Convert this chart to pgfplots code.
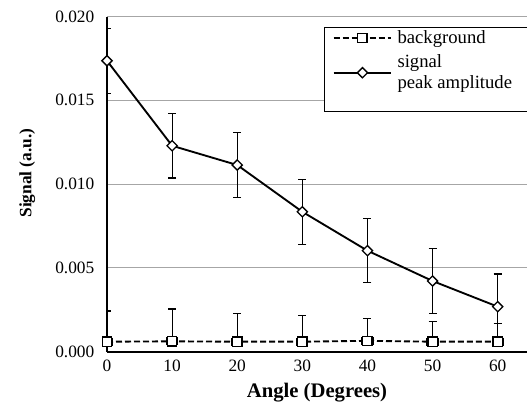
\documentclass[border=0pt]{standalone}
\usepackage{fontspec}
\setmainfont{Liberation Serif}
\usepackage{pgfplots}
\pgfplotsset{compat=1.18}
\usepackage{pgfplotstable}

\pgfplotstableread{
x y e
0 0.01736 0.00194
10 0.01229 0.00192
20 0.01114 0.00194
30 0.00835 0.00194
40 0.00603 0.00192
50 0.00422 0.00193
60 0.00269 0.00195
}\signaldata

\pgfplotstableread{
x y e
0 0.00060 0.00183
10 0.00062 0.00193
20 0.00060 0.00167
30 0.00060 0.00155
40 0.00065 0.00134
50 0.00060 0.00119
60 0.00060 0.00109
}\bgdata

\begin{document}
\begin{tikzpicture}
\begin{axis}[
  name=ax,
  scale only axis,
  width=315pt, height=251.4pt,
  xmin=0, xmax=64.5,
  ymin=0, ymax=0.020,
  axis x line*=bottom,
  axis y line*=left,
  axis line style={line width=1.4pt},
  xtick={0,10,20,30,40,50,60},
  ytick={0,0.005,0.010,0.015,0.020},
  major tick length=0pt,
  scaled y ticks=false,
  yticklabel style={/pgf/number format/fixed,/pgf/number format/fixed zerofill,/pgf/number format/precision=3, xshift=-6pt},
  xticklabel style={yshift=-3pt},
  /pgf/number format/assume math mode=true,
  ticklabel style={font=\fontsize{13}{15}\selectfont},
  ymajorgrids,
  grid style={gray!70, line width=0.75pt},
  xlabel={Angle (Degrees)},
  ylabel={Signal (a.u.)},
  xlabel style={font=\fontsize{15.5}{18}\selectfont\bfseries, at={(axis description cs:0.5,0)}, anchor=base, yshift=-34.5pt},
  ylabel style={font=\fontsize{13}{15}\selectfont\bfseries, at={(axis description cs:-0.19,0.533)}, anchor=center},
  legend style={at={(0.517,0.968)}, anchor=north west, draw=black, line width=0.8pt, fill=white,
    font=\fontsize{14}{15}\selectfont, inner xsep=6pt, inner ysep=0pt, row sep=3pt,
    cells={anchor=west}},
  legend image code/.code={\draw[mark repeat=2,mark phase=2] plot coordinates {(0cm,0cm) (0.76cm,0cm) (1.52cm,0cm)};},
  legend cell align=left,
]
\addplot[black, line width=1.4pt, dash pattern=on 4.5pt off 2.25pt,
  mark=square*, mark size=3.5pt, mark options={solid, fill=white, line width=1pt},
  error bars/.cd, y dir=plus, y explicit, x dir=both, x fixed=0.85,
  error bar style={solid, line width=0.9pt, black},
  error mark options={solid, rotate=90, mark size=3pt, line width=0.9pt, black}]
  table[x=x, y=y, y error=e] {\bgdata};
\addlegendentry{\hspace*{2pt}background\hspace*{70pt}}
\addplot[black, line width=1.4pt,
  mark=square*, mark size=2.7pt, mark options={rotate=45, fill=white, line width=1pt},
  error bars/.cd, y dir=both, y explicit,
  error bar style={line width=0.9pt, black},
  error mark options={rotate=90, mark size=3pt, line width=0.9pt, black}]
  table[x=x, y=y, y error=e] {\signaldata};
\addlegendentry{\hspace*{2pt}\shortstack[l]{signal\\peak amplitude}}
\addlegendimage{empty legend}
\addlegendentry{\rule{0pt}{5pt}}
\end{axis}
\pgfresetboundingbox
\path[use as bounding box] ([xshift=-80.25pt,yshift=-39.2pt]ax.south west) rectangle ([yshift=12.4pt]ax.north east);
\end{tikzpicture}
\end{document}
